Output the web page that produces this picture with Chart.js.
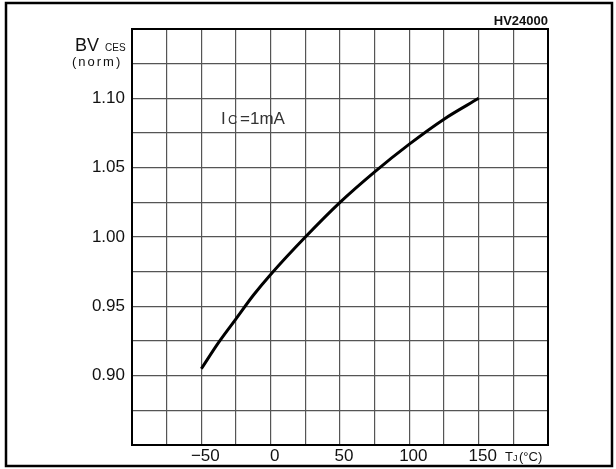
<!DOCTYPE html>
<html>
<head>
<meta charset="utf-8">
<script src="https://cdn.jsdelivr.net/npm/chart.js@4.4.1/dist/chart.umd.min.js"></script>
<style>
  html, body { margin: 0; padding: 0; background: #fff; }
  #wrap { width: 616px; height: 469px; }
</style>
</head>
<body>
<div id="wrap"><canvas id="bvChart" width="616" height="469"></canvas></div>
<script>
// junction temperature (deg C) and normalised breakdown voltage
var tempC = [-50, -37.5, -25, -12.5, 0, 25, 50, 75, 100, 125, 150];
var bvNorm = [0.905, 0.924, 0.941, 0.958, 0.973, 1.000, 1.025, 1.047, 1.067, 1.085, 1.100];

var xTickLabels = [-50, 0, 50, 100, 150];
var yTickLabels = [0.90, 0.95, 1.00, 1.05, 1.10];

var FONT = '"Liberation Sans", Arial, sans-serif';

// frame, axis titles and notes
var decorPlugin = {
    id: 'decor',
    beforeDraw: function (chart) {
        var ctx = chart.ctx;
        ctx.save();
        ctx.fillStyle = '#fff';
        ctx.fillRect(0, 0, chart.width, chart.height);
        ctx.restore();
    },
    afterDraw: function (chart) {
        var ctx = chart.ctx;
        var a = chart.chartArea;
        ctx.save();

        // plot box
        ctx.strokeStyle = '#000';
        ctx.lineWidth = 2;
        ctx.strokeRect(a.left, a.top, a.right - a.left, a.bottom - a.top);

        // outer frame
        ctx.lineWidth = 2.5;
        ctx.strokeRect(6, 3, 606, 463);

        ctx.fillStyle = '#111';
        ctx.textBaseline = 'alphabetic';

        // y axis title
        ctx.font = '18px ' + FONT;
        ctx.textAlign = 'left';
        ctx.fillText('BV', 75, 51);
        ctx.font = '10px ' + FONT;
        ctx.fillText('CES', 105, 51);
        ctx.font = '13px ' + FONT;
        ctx.letterSpacing = '2px';
        ctx.fillText('(norm)', 72, 66);
        ctx.letterSpacing = '0px';

        // x axis title
        ctx.font = '13px ' + FONT;
        ctx.fillText('T', 505, 461);
        ctx.font = '9px ' + FONT;
        ctx.fillText('J', 513, 461);
        ctx.font = '13px ' + FONT;
        ctx.fillText('(\u00B0C)', 519, 461);

        // part number
        ctx.font = 'bold 13px ' + FONT;
        ctx.textAlign = 'right';
        ctx.fillText('HV24000', 548, 25);

        // test condition
        ctx.textAlign = 'left';
        ctx.fillStyle = '#333';
        ctx.font = '17px ' + FONT;
        ctx.fillText('I', 221, 124);
        ctx.font = '13px ' + FONT;
        ctx.fillText('C', 228, 124);
        ctx.font = '17px ' + FONT;
        ctx.fillText('=1mA', 240, 124);

        ctx.restore();
    }
};

var points = tempC.map(function (t, i) { return { x: t, y: bvNorm[i] }; });

new Chart(document.getElementById('bvChart'), {
    type: 'line',
    data: {
        datasets: [{
            data: points,
            borderColor: '#000',
            borderWidth: 3,
            pointRadius: 0,
            cubicInterpolationMode: 'monotone',
            fill: false
        }]
    },
    options: {
        responsive: false,
        animation: false,
        layout: { padding: { left: 0, top: 29, right: 68, bottom: 0 } },
        plugins: {
            legend: { display: false },
            tooltip: { enabled: false }
        },
        scales: {
            x: {
                type: 'linear',
                min: -100,
                max: 200,
                afterFit: function (scale) { scale.height = 24; },
                grid: { color: '#555', lineWidth: 1.2, drawTicks: false },
                border: { display: false },
                ticks: {
                    stepSize: 25,
                    padding: 1,
                    labelOffset: 4,
                    color: '#111',
                    font: { family: FONT, size: 17 },
                    maxRotation: 0,
                    autoSkip: false,
                    callback: function (v) {
                        if (xTickLabels.indexOf(v) < 0) return '';
                        return v < 0 ? '\u2212' + Math.abs(v) : String(v);
                    }
                }
            },
            y: {
                min: 0.85,
                max: 1.15,
                afterFit: function (scale) { scale.width = 132; },
                grid: { color: '#555', lineWidth: 1.2, drawTicks: false },
                border: { display: false },
                ticks: {
                    stepSize: 0.025,
                    padding: 7,
                    color: '#111',
                    font: { family: FONT, size: 17 },
                    autoSkip: false,
                    callback: function (v) {
                        var hit = yTickLabels.some(function (t) { return Math.abs(t - v) < 1e-6; });
                        return hit ? v.toFixed(2) : '';
                    }
                }
            }
        }
    },
    plugins: [decorPlugin]
});
</script>
</body>
</html>
